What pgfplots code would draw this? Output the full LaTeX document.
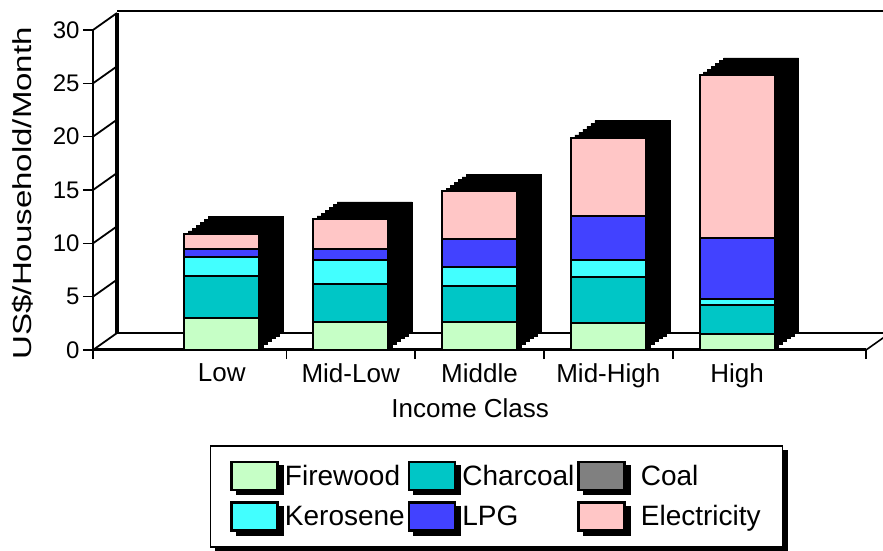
\documentclass[border=0pt]{standalone}
\usepackage{fontspec}
\setmainfont{Liberation Sans}
\usepackage{graphicx}
\usepackage{pgfplots}
\usepackage{pgfplotstable}
\pgfplotsset{compat=1.18}
\usetikzlibrary{shadows}

\definecolor{cFire}{RGB}{198,255,198}
\definecolor{cChar}{RGB}{0,198,198}
\definecolor{cCoal}{RGB}{128,128,128}
\definecolor{cKero}{RGB}{66,255,255}
\definecolor{cLPG}{RGB}{66,66,255}
\definecolor{cElec}{RGB}{255,198,198}

\pgfplotstableread{
x F Ch Co K L E T
1 3.0 3.9 0 1.8 0.8 1.4 10.9
2 2.6 3.6 0 2.2 1.1 2.8 12.3
3 2.6 3.4 0 1.8 2.6 4.5 14.9
4 2.5 4.3 0 1.6 4.2 7.3 19.9
5 1.5 2.7 0 0.6 5.7 15.3 25.8
}\energy

\pgfplotsset{
  base/.style={
    scale only axis, width=773pt, height=320pt,
    at={(93pt,201pt)}, anchor=south west,
    xmin=0, xmax=6, ymin=0, ymax=30, clip=false,
  },
}

\begin{document}
\begin{tikzpicture}
\useasboundingbox (0,0) rectangle (883pt,551pt);
% ---------- back layer: wall, floor, shadows ----------
\begin{axis}[base, hide axis, ybar, bar width=75pt]
  \draw[line width=1.6pt, shift={(24pt,17pt)}] (axis cs:0,0) -- (axis cs:6.2,0);
  \draw[line width=3.5pt, shift={(24pt,17pt)}] (axis cs:0,0) -- (axis cs:0,30);
  \draw[line width=2pt, shift={(24pt,19pt)}] (axis cs:0,30) -- (axis cs:6.2,30);
  \draw[line width=1.6pt] (axis cs:6,0) -- ++(24pt,17pt);
  \pgfplotsinvokeforeach{1,2,3,4,5,6}{
    \addplot[fill=black, draw=black, line width=0.5pt, bar shift=0pt,
      xshift=#1*4pt, yshift=#1*2.8333pt] table[x=x,y=T]{\energy};
  }
\end{axis}
% ---------- front layer ----------
\begin{axis}[base, ybar stacked, bar width=75pt,
  axis x line*=bottom, axis y line*=left,
  x axis line style={line width=3pt},
  y axis line style={line width=1.8pt},
  xtick={1,2,3,4,5},
  xticklabels={Low,Mid-Low,Middle,Mid-High,High},
  minor xtick={0,1.5,2.5,3.5,4.5,6},
  major x tick style={draw=none},
  minor x tick style={line width=1.5pt, draw=black},
  minor tick length=9pt,
  ytick={0,5,10,15,20,25,30},
  y tick style={line width=1.5pt, draw=black},
  tick align=outside, major tick length=10pt,
  /pgf/number format/assume math mode=true,
  xticklabel style={font=\fontsize{26}{30}\selectfont},
  yticklabel style={font=\fontsize{24}{28}\selectfont},
  xlabel={Income Class},
  xlabel style={font=\fontsize{26}{30}\selectfont, at={(axis description cs:0.488,0)}, anchor=north, yshift=-45pt},
  ylabel={\scalebox{1.27}[1]{US\$/Household/Month}},
  ylabel style={font=\fontsize{26}{30}\selectfont, at={(axis description cs:-0.0906,0.49)}, anchor=center},
  legend columns=3,
  legend cell align=left,
  legend image code/.code={\draw[#1, line width=2.5pt] (0pt,-14pt) rectangle (46pt,14pt);},
  legend style={at={(axis description cs:0.151,-0.297)}, anchor=north west,
    draw=black, line width=1.5pt, fill=white,
    inner xsep=20pt, inner ysep=15pt, row sep=10pt, column sep=4pt,
    nodes={inner xsep=2pt},
    /tikz/every even column/.append style={column sep=1pt},
    font=\fontsize{28}{30}\selectfont,
    drop shadow={shadow xshift=5pt, shadow yshift=-4pt, fill=black, opacity=1}},
]
  \addplot[fill=cFire, draw=black, line width=2pt] table[x=x,y=F]{\energy};
  \addlegendentry{Firewood}
  \addplot[fill=cChar, draw=black, line width=2pt] table[x=x,y=Ch]{\energy};
  \addlegendentry{Charcoal}
  \addplot[fill=cCoal, draw=black, line width=2pt] table[x=x,y=Co]{\energy};
  \addlegendentry{\hspace{9pt}Coal}
  \addplot[fill=cKero, draw=black, line width=2pt] table[x=x,y=K]{\energy};
  \addlegendentry{Kerosene}
  \addplot[fill=cLPG, draw=black, line width=2pt] table[x=x,y=L]{\energy};
  \addlegendentry{LPG}
  \addplot[fill=cElec, draw=black, line width=2pt] table[x=x,y=E]{\energy};
  \addlegendentry{\hspace{9pt}Electricity}
  \pgfplotsinvokeforeach{0,5,10,15,20,25,30}{
    \draw[line width=1.8pt] (axis cs:0,#1) -- ++(24pt,17pt);
  }
\end{axis}
\end{tikzpicture}
\end{document}
